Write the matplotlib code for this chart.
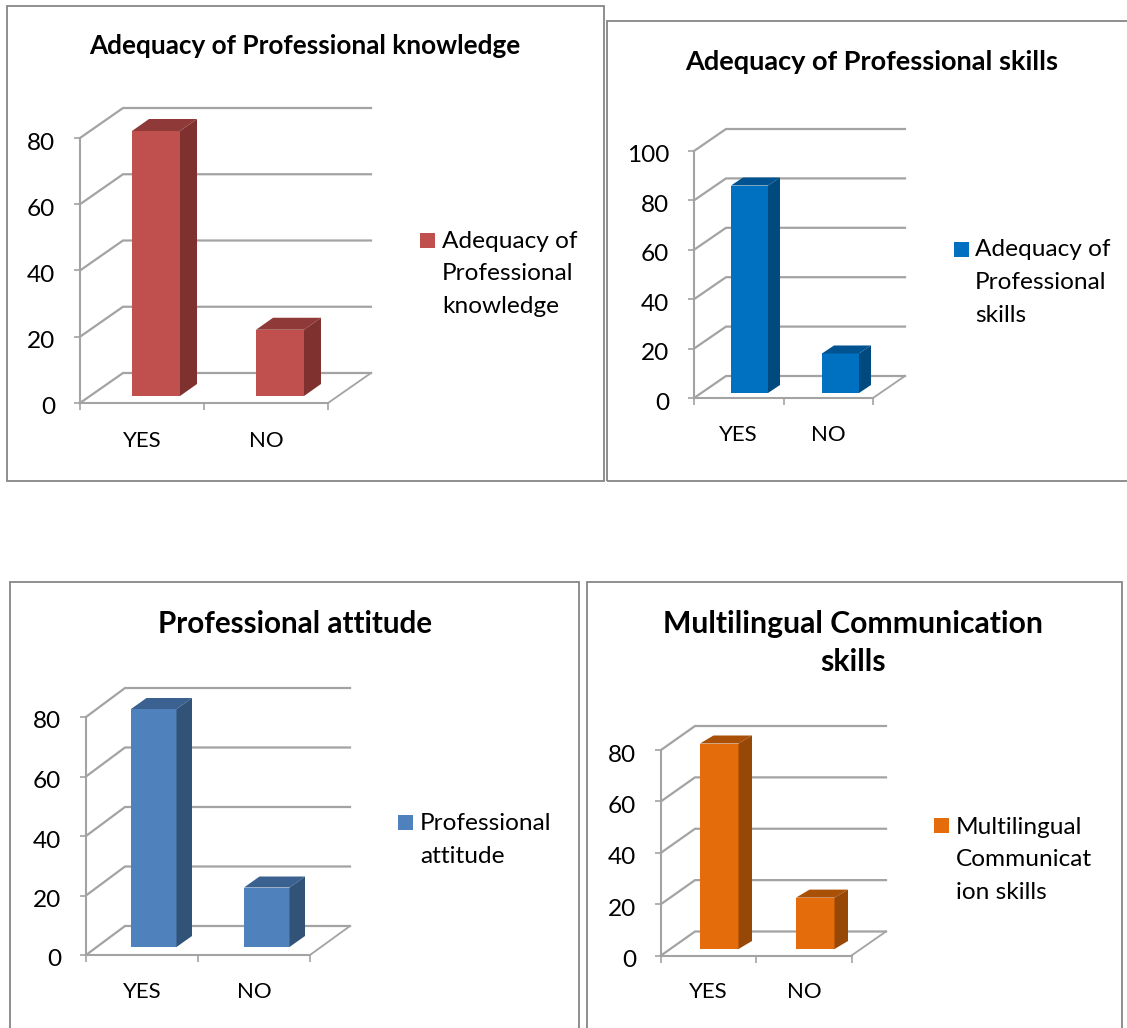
import matplotlib
matplotlib.use('Agg')
import matplotlib.pyplot as plt
from matplotlib.patches import Rectangle
from matplotlib.transforms import ScaledTranslation

W, H = 1127, 1028
plt.rcParams['font.family'] = ['Lato', 'DejaVu Sans']

# Chart data
categories = ['YES', 'NO']
knowledge_values = [80, 20]
skills_values = [84, 16]
attitude_values = [80, 20]
multilingual_values = [80, 20]

knowledge_ticks = [0, 20, 40, 60, 80]
skills_ticks = [0, 20, 40, 60, 80, 100]
attitude_ticks = [0, 20, 40, 60, 80]
multilingual_ticks = [0, 20, 40, 60, 80]

# Layout in image pixels
panels = [
    dict(values=knowledge_values, ticks=knowledge_ticks,
         title='Adequacy of Professional knowledge', title_xy=(305, 46), title_size=18.8,
         legend=['Adequacy of', 'Professional', 'knowledge'], swatch=(420, 233), leg_x=442, leg_y=241,
         frame=(7, 6, 604, 481), axis=(80, 328, 403, 138), wall=(43, 30), right=371,
         bars=(132, 256), bar_w=48, base=396, side=(17, 12), cat_y=439,
         colors=('#C0504D', '#8F3A38', '#7F312F')),
    dict(values=skills_values, ticks=skills_ticks,
         title='Adequacy of Professional skills', title_xy=(872, 62), title_size=19.5,
         legend=['Adequacy of', 'Professional', 'skills'], swatch=(954, 242), leg_x=975, leg_y=250,
         frame=(607, 21, 1140, 481), axis=(694, 873, 398, 151), wall=(32, 22), right=905,
         bars=(731, 822), bar_w=37, base=393, side=(12, 8), cat_y=433,
         colors=('#0070C0', '#005390', '#004A80')),
    dict(values=attitude_values, ticks=attitude_ticks,
         title='Professional attitude', title_xy=(295, 624), title_size=21.3,
         legend=['Professional', 'attitude'], swatch=(398, 815), leg_x=420, leg_y=824,
         frame=(10, 582, 579, 1050), axis=(86, 310, 955, 717), wall=(39, 29), right=350,
         bars=(131, 244), bar_w=45.5, base=947, side=(15.5, 11), cat_y=990,
         colors=('#4F81BD', '#3A6190', '#325378')),
    dict(values=multilingual_values, ticks=multilingual_ticks,
         title='Multilingual Communication\nskills', title_xy=(853, 643), title_size=21.7,
         legend=['Multilingual', 'Communicat', 'ion skills'], swatch=(934, 818), leg_x=956, leg_y=827,
         frame=(587, 582, 1122, 1050), axis=(661, 851.5, 955.5, 750), wall=(34, 24), right=886,
         bars=(700, 796), bar_w=38.5, base=949, side=(13.5, 8), cat_y=990,
         colors=('#E46C0A', '#A94F06', '#974706')),
]

GRID = '#a3a3a3'
FRAME = '#868686'
TEXT_SIZE = 17.6


def fx(px):
    return px / W


def fy(py):
    return 1 - py / H


def draw_panel(fig, p):
    # outer border
    x1, y1, x2, y2 = p['frame']
    fig.add_artist(Rectangle((fx(x1), fy(y2)), (x2 - x1) / W, (y2 - y1) / H, transform=fig.transFigure,
                             fill=False, edgecolor=FRAME, linewidth=1.3))

    left, right, bottom, top = p['axis']
    ymax = p['ticks'][-1]
    ax = fig.add_axes([fx(left), fy(bottom), (right - left) / W, (bottom - top) / H])
    ax.patch.set_visible(False)
    ax.set_xlim(0, len(categories))
    ax.set_ylim(0, ymax)

    # pixel to data scale
    sx = len(categories) / (right - left)
    sy = ymax / (bottom - top)
    wall_x = p['wall'][0] * sx
    wall_y = p['wall'][1] * sy
    end_x = (p['right'] - left) * sx

    # back wall grid and floor
    for v in p['ticks']:
        ax.plot([0, wall_x, end_x], [v, v + wall_y, v + wall_y], color=GRID, lw=1.6,
                clip_on=False, zorder=1, solid_joinstyle='miter')
    ax.plot([len(categories), end_x], [0, wall_y], color=GRID, lw=1.3, clip_on=False, zorder=1)

    # bars with their top and side faces
    base = (bottom - p['base']) * sy
    w = p['bar_w'] * sx
    dx = p['side'][0] * sx
    dy = p['side'][1] * sy
    front, top_c, side_c = p['colors']
    for bar_px, v in zip(p['bars'], p['values']):
        xl = (bar_px - left) * sx
        xr = xl + w
        ax.bar(xl + w / 2, v, w, bottom=base, color=front, zorder=3, clip_on=False)
        ax.fill([xl, xr, xr + dx, xl + dx], [base + v, base + v, base + v + dy, base + v + dy],
                color=top_c, lw=0, zorder=3, clip_on=False)
        ax.fill([xr, xr + dx, xr + dx, xr], [base, base + dy, base + v + dy, base + v],
                color=side_c, lw=0, zorder=3, clip_on=False)

    for s in ['top', 'right']:
        ax.spines[s].set_visible(False)
    for s in ['left', 'bottom']:
        ax.spines[s].set_color(GRID)
        ax.spines[s].set_linewidth(1.5)

    ax.set_yticks(p['ticks'])
    ax.tick_params(axis='y', length=4, width=1.2, color=GRID, labelsize=TEXT_SIZE, pad=14)
    # Lato digits sit high compared with the reference font
    nudge = ScaledTranslation(0, -3 / 100, fig.dpi_scale_trans)
    for label in ax.get_yticklabels():
        label.set_transform(label.get_transform() + nudge)
    # ticks at the slot edges, labels in the middle of the slots
    ax.set_xticks(range(len(categories) + 1))
    ax.set_xticklabels([])
    ax.set_xticks([i + 0.5 for i in range(len(categories))], minor=True)
    ax.set_xticklabels(categories, minor=True, fontsize=16)
    ax.tick_params(axis='x', which='major', length=5, width=1.2, color=GRID)
    ax.tick_params(axis='x', which='minor', length=0,
                   pad=(p['cat_y'] - bottom - 8) * 0.72)

    # title
    fig.text(fx(p['title_xy'][0]), fy(p['title_xy'][1]), p['title'], ha='center', va='center',
             fontweight='bold', fontsize=p['title_size'], linespacing=1.4)

    # legend
    sw_x, sw_y = p['swatch']
    fig.add_artist(Rectangle((fx(sw_x), fy(sw_y + 15)), 15 / W, 15 / H, transform=fig.transFigure,
                             facecolor=front, edgecolor='none'))
    for i, line in enumerate(p['legend']):
        fig.text(fx(p['leg_x']), fy(p['leg_y'] + i * 32.7), line, ha='left', va='center', fontsize=TEXT_SIZE)


fig = plt.figure(figsize=(W / 100, H / 100), dpi=100, facecolor='white')
for panel in panels:
    draw_panel(fig, panel)
fig.savefig('out.png', dpi=100)
